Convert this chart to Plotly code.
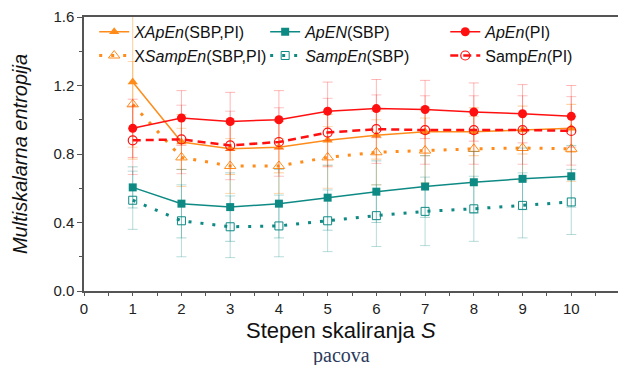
import plotly.graph_objects as go

scale = [1, 2, 3, 4, 5, 6, 7, 8, 9, 10]

xapen = [1.22, 0.87, 0.83, 0.84, 0.88, 0.91, 0.93, 0.93, 0.94, 0.95]
xapen_err = [0.45, 0.16, 0.15, 0.15, 0.15, 0.14, 0.14, 0.14, 0.14, 0.14]
xsampen = [1.09, 0.78, 0.73, 0.73, 0.78, 0.81, 0.82, 0.83, 0.835, 0.83]
xsampen_err = [0.25, 0.17, 0.16, 0.16, 0.18, 0.19, 0.19, 0.19, 0.19, 0.19]
apen_sbp = [0.605, 0.51, 0.49, 0.51, 0.545, 0.58, 0.61, 0.635, 0.655, 0.67]
apen_sbp_err = [0.12, 0.2, 0.2, 0.2, 0.19, 0.18, 0.18, 0.18, 0.18, 0.18]
sampen_sbp = [0.53, 0.41, 0.375, 0.38, 0.41, 0.44, 0.465, 0.48, 0.5, 0.52]
sampen_sbp_err = [0.17, 0.21, 0.18, 0.18, 0.18, 0.18, 0.2, 0.19, 0.19, 0.19]
apen_pi = [0.95, 1.01, 0.99, 1.0, 1.05, 1.065, 1.06, 1.045, 1.035, 1.02]
apen_pi_err = [0.17, 0.16, 0.17, 0.17, 0.17, 0.17, 0.17, 0.17, 0.17, 0.18]
sampen_pi = [0.88, 0.885, 0.85, 0.87, 0.925, 0.945, 0.94, 0.94, 0.94, 0.935]
sampen_pi_err = [0.2, 0.2, 0.2, 0.2, 0.2, 0.2, 0.2, 0.2, 0.2, 0.2]

ORANGE = "#ff8c1a"
TEAL = "#0e8a84"
RED = "#ff1010"

def err(vals, rgba):
    return dict(type="data", array=vals, visible=True, color=rgba, thickness=1, width=5)

fig = go.Figure()
fig.add_trace(go.Scatter(x=scale, y=xapen, name="<i>XApEn</i>(SBP,PI)", mode="lines+markers",
                         legend="legend",
                         line=dict(color=ORANGE, width=1.5),
                         marker=dict(symbol="triangle-up", size=9, color=ORANGE),
                         error_y=err(xapen_err, "rgba(255,140,26,0.45)")))
fig.add_trace(go.Scatter(x=scale, y=xsampen, name="X<i>SampEn</i>(SBP,PI)", mode="lines+markers",
                         legend="legend",
                         line=dict(color=ORANGE, width=3, dash="3px,9px"),
                         marker=dict(symbol="triangle-up-open", size=10, color=ORANGE, line=dict(width=1)),
                         error_y=err(xsampen_err, "rgba(255,140,26,0.35)")))
fig.add_trace(go.Scatter(x=scale, y=apen_sbp, name="<i>ApEN</i>(SBP)", mode="lines+markers",
                         legend="legend2",
                         line=dict(color=TEAL, width=1.5),
                         marker=dict(symbol="square", size=8, color=TEAL),
                         error_y=err(apen_sbp_err, "rgba(14,138,132,0.35)")))
fig.add_trace(go.Scatter(x=scale, y=sampen_sbp, name="<i>SampEn</i>(SBP)", mode="lines+markers",
                         legend="legend2",
                         line=dict(color=TEAL, width=3, dash="3px,9px"),
                         marker=dict(symbol="square-open", size=8, color=TEAL, line=dict(width=1)),
                         error_y=err(sampen_sbp_err, "rgba(14,138,132,0.3)")))
fig.add_trace(go.Scatter(x=scale, y=apen_pi, name="<i>ApEn</i>(PI)", mode="lines+markers",
                         legend="legend3",
                         line=dict(color=RED, width=1.5),
                         marker=dict(symbol="circle", size=9, color=RED),
                         error_y=err(apen_pi_err, "rgba(255,16,16,0.3)")))
fig.add_trace(go.Scatter(x=scale, y=sampen_pi, name="Samp<i>En</i>(PI)", mode="lines+markers",
                         legend="legend3",
                         line=dict(color=RED, width=2.5, dash="8px,5px"),
                         marker=dict(symbol="circle-open", size=9, color=RED, line=dict(width=1.2)),
                         error_y=err(sampen_pi_err, "rgba(255,16,16,0.25)")))

axis_common = dict(showline=True, linecolor="#555", linewidth=1.5, mirror=True, showgrid=False,
                   zeroline=False, ticks="outside", tickcolor="#555", automargin=False,
                   tickfont=dict(family="Liberation Sans, Arial", size=15, color="#222"))

fig.update_xaxes(range=[0, 11], dtick=1, tick0=0, ticklen=3,
                 minor=dict(dtick=0.5, ticks="outside", ticklen=3, tickcolor="#555"),
                 **axis_common)
fig.update_yaxes(range=[0, 1.6], dtick=0.4, tick0=0, tickformat=".1f", ticklen=5,
                 minor=dict(dtick=0.2, ticks="outside", ticklen=3, tickcolor="#555"),
                 title=dict(text="<i>Multiskalarna entropija</i>", standoff=20,
                            font=dict(family="Liberation Sans, Arial", size=20, color="#111")),
                 **axis_common)

fig.add_annotation(text="Stepen skaliranja <i>S</i>", xref="paper", yref="paper", x=0.48, y=-0.145,
                   xanchor="center", yanchor="middle", showarrow=False,
                   font=dict(family="Liberation Sans, Arial", size=22, color="#111"))
fig.add_annotation(text="pacova", xref="paper", yref="paper", x=0.48, y=-0.236,
                   xanchor="center", yanchor="middle", showarrow=False,
                   font=dict(family="Liberation Serif, Times New Roman", size=20, color="#2b3a5c"))

leg_common = dict(orientation="v", y=1.008, yanchor="top", xanchor="left",
                  bgcolor="rgba(0,0,0,0)", tracegroupgap=0, itemwidth=30,
                  font=dict(family="Liberation Sans, Arial", size=16, color="#111"))

# the page body adds an 8px margin, so the figure is 8px smaller and margins are offset
fig.update_layout(
    width=618, height=357,
    margin=dict(l=76, r=6, t=9, b=74),
    plot_bgcolor="white", paper_bgcolor="white",
    legend=dict(x=0.019, **leg_common),
    legend2=dict(x=0.338, **leg_common),
    legend3=dict(x=0.674, **leg_common),
)

fig.write_html("out.html")
